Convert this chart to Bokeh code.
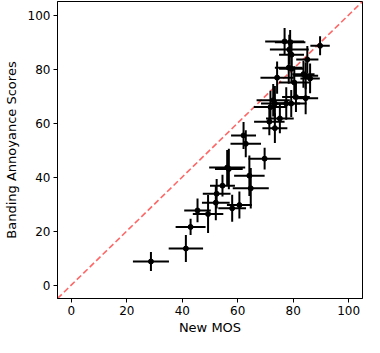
import numpy as np
from bokeh.plotting import figure
from bokeh.models import Range1d, FixedTicker
from bokeh.embed import file_html
from bokeh.resources import INLINE

new_mos = [28.7, 41.3, 43.0, 45.5, 49.3, 52.1, 52.4, 54.5, 56.2, 56.8, 58.0, 60.6,
           62.1, 62.9, 64.2, 64.7, 69.7, 71.4, 73.4, 71.8, 72.8, 75.2, 73.4, 77.5,
           79.3, 81.0, 84.5, 74.2, 78.4, 79.4, 80.4, 84.5, 86.1, 85.1, 79.4, 78.6,
           78.9, 76.9, 89.7, 83.7]
banding = [8.7, 13.5, 21.5, 27.6, 26.3, 30.5, 33.8, 36.8, 43.5, 43.0, 28.4, 29.6,
           55.4, 52.3, 40.5, 35.8, 46.8, 60.5, 58.1, 65.9, 68.4, 61.7, 67.2, 67.2,
           67.2, 69.6, 69.2, 76.8, 80.5, 80.1, 75.0, 77.5, 76.5, 83.5, 85.3, 87.2,
           89.9, 90.2, 88.6, 78.1]
mos_err = [6.5, 6.2, 5.4, 4.8, 5.5, 5.0, 5.0, 4.5, 6.5, 5.0, 5.0, 4.5,
           4.5, 5.5, 5.5, 6.5, 5.8, 5.5, 4.5, 6.0, 6.0, 5.0, 5.0, 5.0,
           5.5, 5.0, 4.5, 6.0, 5.0, 4.5, 5.5, 4.5, 3.5, 4.0, 4.5, 7.0,
           5.5, 7.0, 3.5, 4.0]
band_err = [3.5, 5.0, 3.0, 4.4, 7.0, 6.5, 5.5, 4.0, 6.5, 7.5, 5.0, 5.0,
            5.0, 5.0, 7.5, 7.5, 4.0, 5.0, 5.5, 6.0, 6.0, 5.5, 6.5, 6.0,
            5.0, 5.5, 6.0, 6.0, 6.0, 5.5, 6.0, 5.0, 5.5, 5.0, 5.5, 5.5,
            4.5, 5.0, 3.5, 5.0]
diag = [-5, 105]
ticks = [0, 20, 40, 60, 80, 100]

x = np.array(new_mos)
y = np.array(banding)
xe = np.array(mos_err)
ye = np.array(band_err)

p = figure(width=364, height=337, output_backend="svg", toolbar_location=None,
           x_range=Range1d(-5, 105), y_range=Range1d(-5, 105),
           min_border_left=54, min_border_right=2, min_border_top=1, min_border_bottom=36)
p.grid.visible = False
p.outline_line_color = "black"
p.outline_line_width = 1

for ax in (p.xaxis[0], p.yaxis[0]):
    ax.ticker = FixedTicker(ticks=ticks)
    ax.minor_tick_line_color = None
    ax.major_tick_in = 0
    ax.major_tick_out = 4
    ax.major_label_standoff = 3
    ax.major_label_text_font = "DejaVu Sans"
    ax.major_label_text_font_size = "12px"
    ax.major_label_text_color = "black"
    ax.axis_label_text_font = "DejaVu Sans"
    ax.axis_label_text_font_size = "13px"
    ax.axis_label_text_font_style = "normal"
    ax.axis_label_text_color = "black"
    ax.axis_line_color = "black"
p.xaxis.axis_label = "New MOS"
p.yaxis.axis_label = "Banding Annoyance Scores"
p.xaxis.axis_label_standoff = 2
p.yaxis.axis_label_standoff = 6
p.yaxis.major_label_orientation = "horizontal"

p.line(diag, diag, line_color="red", line_alpha=0.6, line_width=1.6, line_dash="6 3")

p.segment(x0=x - xe, y0=y, x1=x + xe, y1=y, line_color="black", line_width=2)
p.segment(x0=x, y0=y - ye, x1=x, y1=y + ye, line_color="black", line_width=2)
p.scatter(x, y, size=5, color="black")

open("out.html", "w").write(file_html(p, INLINE))
